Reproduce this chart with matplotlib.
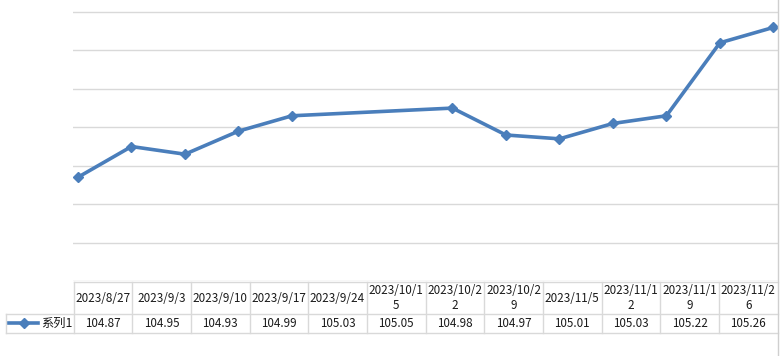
import datetime as dt
import matplotlib
matplotlib.use('Agg')
import matplotlib.pyplot as plt
import matplotlib.dates as mdates
from matplotlib.lines import Line2D

plt.rcParams['font.family'] = ['Noto Sans CJK SC', 'DejaVu Sans']

# 数据
dates = ['2023/8/27', '2023/9/3', '2023/9/10', '2023/9/17', '2023/9/24', '2023/10/15',
         '2023/10/22', '2023/10/29', '2023/11/5', '2023/11/12', '2023/11/19', '2023/11/26']
date_labels = ['2023/8/27', '2023/9/3', '2023/9/10', '2023/9/17', '2023/9/24', '2023/10/1\n5',
               '2023/10/2\n2', '2023/10/2\n9', '2023/11/5', '2023/11/1\n2', '2023/11/1\n9', '2023/11/2\n6']
values = [104.87, 104.95, 104.93, 104.99, 105.03, 105.05,
          104.98, 104.97, 105.01, 105.03, 105.22, 105.26]
series_name = '系列1'
grid_vals = [104.6, 104.7, 104.8, 104.9, 105.0, 105.1, 105.2, 105.3]

line_color = '#4A7EBB'
grid_color = '#D9D9D9'
W, H = 781, 356

x = [dt.datetime.strptime(d, '%Y/%m/%d') for d in dates]
xn = mdates.date2num(x)

fig = plt.figure(figsize=(W / 100, H / 100), dpi=100)
fig.patch.set_facecolor('white')

# 图表区
ax = fig.add_axes([73 / W, 1 - 281 / H, 705 / W, 281 / H])
ax.plot(xn, values, color=line_color, lw=2.6, marker='D', ms=5.5,
        markeredgecolor=line_color, solid_joinstyle='round')
ax.set_xlim(xn[0] - 0.65, xn[-1] + 0.6)
ax.set_ylim(104.6, 105.3 + 12 / 383 * 1.0)
for g in grid_vals:
    ax.axhline(g, color=grid_color, lw=1, zorder=0)
for s in ax.spines.values():
    s.set_visible(False)
ax.set_xticks([])
ax.set_yticks([])

# 数据表
tx = fig.add_axes([0, 0, 1, 1])
tx.set_xlim(0, W)
tx.set_ylim(H, 0)
tx.axis('off')
x0, x1 = 73.5, 777.5
y0, y1, y2 = 281.5, 313.5, 332.5
n = len(date_labels)
cw = (x1 - x0) / n
lk = dict(color=grid_color, lw=1)
tx.add_line(Line2D([x0, x1], [y0, y0], **lk))
tx.add_line(Line2D([6, x1], [y1, y1], **lk))
tx.add_line(Line2D([6, x1], [y2, y2], **lk))
tx.add_line(Line2D([6, 6], [y1, y2], **lk))
for i in range(n):
    xx = x0 + i * cw
    tx.add_line(Line2D([xx, xx], [y0, y2], **lk))
# 右侧边框
tx.add_line(Line2D([x1, x1], [0, H], color='#CFCFCF', lw=1))
for i, (lab, v) in enumerate(zip(date_labels, values)):
    cx = x0 + (i + 0.5) * cw
    tx.text(cx, (y0 + y1) / 2 + 0.5, lab, ha='center', va='center', fontsize=8.4,
            linespacing=1.15, color='#1a1a1a')
    tx.text(cx, (y1 + y2) / 2 + 0.5, f'{v:.2f}', ha='center', va='center', fontsize=8.4,
            color='#1a1a1a')
# 图例
ly = (y1 + y2) / 2
tx.add_line(Line2D([9, 23.5, 38], [ly] * 3, color=line_color, lw=2.6,
                   marker='D', ms=5.5, markevery=[1], markeredgecolor=line_color))
tx.text(41, ly + 0.5, series_name, ha='left', va='center', fontsize=8.8,
        color='#1a1a1a')

fig.savefig('out.png', dpi=100, facecolor='white')
